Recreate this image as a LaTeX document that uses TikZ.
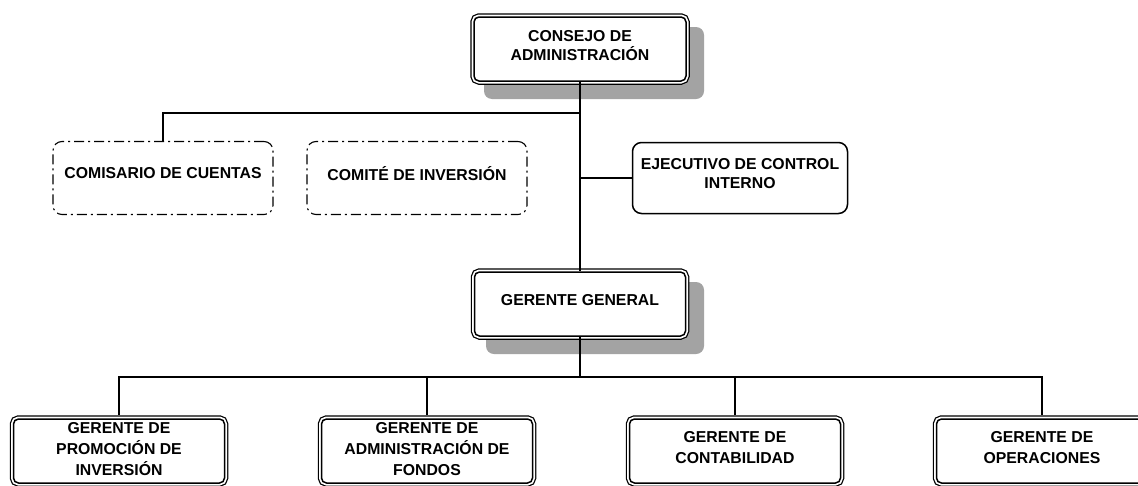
\documentclass[tikz,border=0pt]{standalone}
\usepackage{fontspec}
\setmainfont{Liberation Sans}
\begin{document}
\begin{tikzpicture}[x=1pt,y=-1pt,
  lbl/.style={font=\fontsize{15.8pt}{19pt}\selectfont\bfseries, align=center},
  lblb/.style={font=\fontsize{15.8pt}{21pt}\selectfont\bfseries, align=center},
  dbox/.style={draw, line width=1.5pt, fill=white, rounded corners=5pt,
    minimum width=212pt, minimum height=64pt, inner sep=1pt, text depth=8pt,
    preaction={draw, line width=7.5pt},
    preaction={draw=white, line width=5pt}},
  dashbox/.style={draw, line width=1.1pt, rounded corners=9pt,
    dash pattern=on 10pt off 4pt on 2pt off 4pt,
    minimum width=220pt, minimum height=73pt, inner sep=1pt, text depth=10pt},
  solbox/.style={draw, line width=1.5pt, fill=white, rounded corners=9pt,
    minimum width=215pt, minimum height=71pt, inner sep=1pt, text depth=10pt},
  shad/.style={fill=black!36, rounded corners=8pt},
  conn/.style={draw, line width=1.5pt}
]
\useasboundingbox (0,0) rectangle (1138,485);
\clip (0,0) rectangle (1138,485);
\fill[white] (0,0) rectangle (1138,485);
% shadows
\fill[shad] (484,27) rectangle (704,99);
\fill[shad] (486,282) rectangle (704,354);
% nodes
\node[dbox, lbl] (consejo) at (580,49) {CONSEJO DE\\ADMINISTRACIÓN};
\node[dbox, lbl, minimum width=211pt] (gg) at (580,304) {GERENTE GENERAL};
\node[dashbox, lbl] (comisario) at (163,178) {COMISARIO DE CUENTAS};
\node[dashbox, lbl] (comite) at (417,178) {COMITÉ DE INVERSIÓN};
\node[solbox, lbl] (ejec) at (740,178) {EJECUTIVO DE CONTROL\\INTERNO};
\node[dbox, lblb, text depth=4pt, minimum width=211pt] (b1) at (119,451) {GERENTE DE\\PROMOCIÓN DE\\INVERSIÓN};
\node[dbox, lblb, text depth=4pt, minimum width=211pt] (b2) at (427,451) {GERENTE DE\\ADMINISTRACIÓN DE\\FONDOS};
\node[dbox, lblb, text depth=8pt, minimum width=211pt] (b3) at (735,451) {GERENTE DE\\CONTABILIDAD};
\node[dbox, lblb, text depth=8pt, minimum width=211pt] (b4) at (1042,451) {GERENTE DE\\OPERACIONES};
% junctions
\coordinate (j1) at (580,113);
\coordinate (j2) at (580,377);
% connectors
\draw[conn] (consejo.south) -- (gg.north);
\draw[conn] (j1) -| (comisario.north);
\draw[conn] (consejo.south |- ejec.west) -- (ejec.west);
\draw[conn] (gg.south) -- (j2);
\draw[conn] ([yshift=3.5pt]b1.north) |- (j2) -| ([yshift=3.5pt]b4.north);
\draw[conn] ([yshift=3.5pt]b2.north) -- (b2.north |- j2);
\draw[conn] ([yshift=3.5pt]b3.north) -- (b3.north |- j2);
\end{tikzpicture}
\end{document}
